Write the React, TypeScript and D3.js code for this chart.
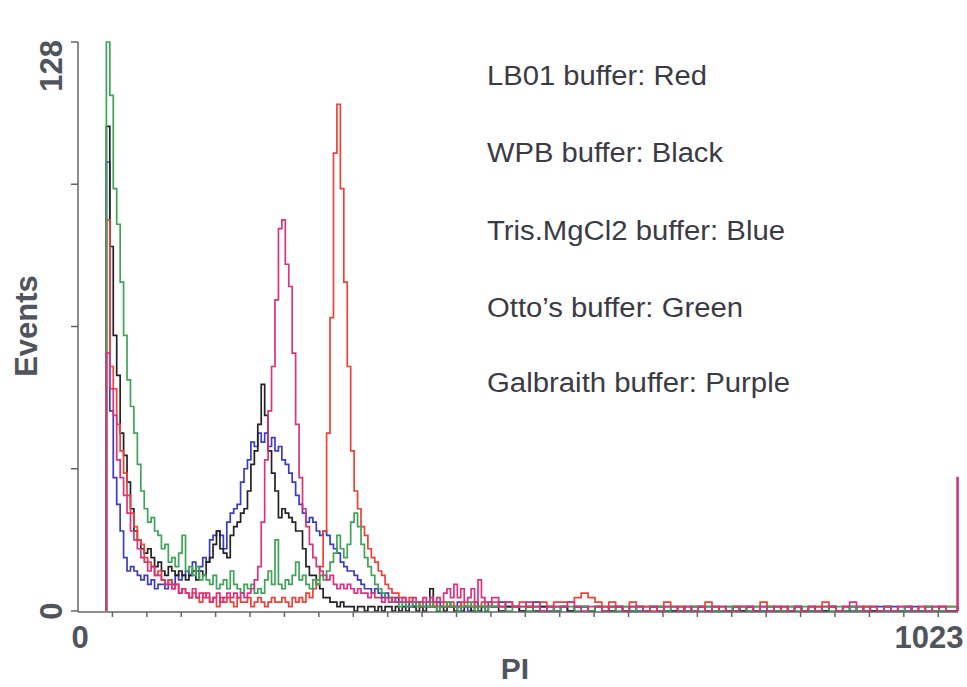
import React from "react";
import * as d3 from "d3";

// ---- data (PI channel histogram, counts per bin) ----
const MAIN_START = 33;   // first channel of the 4-channel bins
const MAIN_WIDTH = 4;
const TAIL_START = 481;  // first channel of the 8-channel bins
const TAIL_WIDTH = 8;
const LAST_CHANNEL = 1022;

const xTickValues = d3.range(40, 1001, 40);
const yTickValues = [0, 32, 64, 96, 128];

const legendLines = [
  "LB01 buffer: Red",
  "WPB buffer: Black",
  "Tris.MgCl2 buffer: Blue",
  "Otto\u2019s buffer: Green",
  "Galbraith buffer: Purple",
];

const greenMain = [
  128, 116, 95, 87, 74, 62, 52, 46, 40, 33,
  27, 23, 20, 21, 18, 17, 14, 15, 11, 12,
  10, 13, 17, 9, 10, 8, 10, 7, 8, 7,
  6, 8, 5, 6, 7, 5, 9, 6, 5, 4,
  6, 5, 6, 4, 5, 4, 7, 9, 6, 16,
  6, 5, 7, 6, 8, 11, 7, 8, 6, 5,
  7, 6, 8, 7, 9, 11, 13, 17, 14, 12,
  15, 20, 22, 19, 15, 12, 10, 8, 6, 5,
  4, 3, 3, 2, 2, 1, 2, 1, 1, 2,
  1, 2, 1, 1, 2, 1, 0, 1, 1, 2,
  1, 1, 0, 1, 1, 2, 1, 0, 1, 1,
  0, 1,
];
const redMain = [
  88, 55, 50, 42, 36, 31, 26, 22, 19, 16,
  15, 12, 11, 10, 8, 9, 7, 6, 7, 5,
  6, 4, 5, 4, 3, 4, 3, 2, 4, 3,
  2, 3, 1, 3, 2, 3, 2, 1, 3, 2,
  2, 3, 1, 2, 3, 2, 1, 2, 3, 2,
  2, 3, 2, 1, 3, 2, 3, 2, 4, 3,
  5, 7, 10, 18, 40, 66, 103, 114, 95, 74,
  55, 36, 27, 23, 19, 17, 14, 12, 11, 9,
  8, 6, 5, 4, 4, 3, 3, 2, 3, 2,
  2, 1, 2, 2, 1, 2, 1, 1, 2, 1,
  2, 1, 1, 2, 1, 1, 2, 1, 1, 2,
  1, 1,
];
const purpleMain = [
  58, 50, 44, 34, 30, 26, 22, 18, 16, 14,
  12, 11, 9, 10, 8, 8, 7, 6, 6, 5,
  6, 4, 5, 4, 3, 5, 3, 4, 3, 4,
  2, 3, 4, 2, 3, 4, 3, 4, 3, 4,
  3, 4, 5, 7, 10, 20, 34, 45, 55, 70,
  86, 88, 78, 73, 58, 42, 30, 23, 19, 15,
  12, 10, 9, 8, 7, 8, 6, 5, 6, 5,
  6, 5, 4, 5, 4, 4, 3, 4, 3, 3,
  2, 3, 2, 3, 2, 2, 3, 2, 2, 3,
  2, 2, 3, 2, 3, 2, 3, 2, 4, 5,
  3, 6, 3, 5, 2, 3, 5, 2, 7, 3,
  2, 2,
];
const blackMain = [
  109, 82, 62, 53, 40, 35, 29, 23, 18, 16,
  14, 13, 14, 12, 10, 11, 9, 8, 10, 9,
  8, 9, 8, 7, 8, 9, 7, 9, 8, 11,
  12, 15, 18, 14, 13, 12, 17, 19, 20, 22,
  23, 27, 33, 36, 42, 51, 44, 36, 31, 27,
  21, 23, 22, 21, 20, 18, 18, 14, 10, 8,
  8, 6, 5, 3, 3, 2, 2, 1, 2, 1,
  1, 1, 0, 1, 1, 0, 1, 1, 0, 1,
  0, 1, 1, 0, 1, 0, 1, 0, 1, 1,
  0, 1, 0, 1, 5, 1, 0, 1, 0, 1,
  1, 0, 1, 0, 1, 1, 0, 1, 0, 1,
  0, 1,
];
const blueMain = [
  101, 45, 30, 24, 18, 12, 9, 10, 9, 8,
  7, 8, 6, 7, 5, 6, 6, 5, 7, 6,
  8, 7, 8, 9, 8, 11, 9, 10, 12, 11,
  16, 17, 18, 17, 14, 20, 22, 23, 24, 29,
  32, 34, 38, 37, 40, 38, 40, 37, 39, 36,
  37, 34, 33, 31, 29, 26, 24, 22, 20, 21,
  20, 18, 17, 18, 17, 15, 14, 13, 11, 10,
  9, 9, 8, 7, 6, 5, 5, 4, 5, 4,
  3, 4, 3, 2, 3, 2, 2, 1, 2, 1,
  2, 1, 1, 2, 1, 1, 2, 1, 1, 2,
  1, 1, 2, 1, 1, 0, 1, 2, 1, 1,
  1, 2,
];

const redTail = [
  2, 1, 2, 1, 2, 1, 1, 2, 1, 2,
  2, 2, 3, 4, 3, 2, 1, 2, 1, 1,
  2, 1, 1, 0, 1, 2, 1, 1, 0, 1,
  1, 2, 1, 0, 1, 1, 1, 0, 1, 2,
  1, 1, 0, 1, 1, 0, 1, 1, 2, 1,
  0, 1, 1, 0, 1, 1, 0, 1, 0, 1,
  1, 0, 1, 1, 0, 1, 1,
];
const purpleTail = [
  3, 1, 2, 1, 1, 2, 1, 0, 1, 1,
  1, 2, 1, 0, 1, 1, 0, 1, 1, 0,
  1, 1, 0, 1, 0, 1, 1, 0, 1, 0,
  1, 0, 1, 1, 0, 0, 1, 1, 0, 1,
  0, 1, 1, 0, 1, 0, 1, 0, 1, 1,
  0, 1, 2, 1, 0, 1, 0, 1, 0, 1,
  1, 0, 1, 0, 1, 1, 0,
];
const blackTail = [
  1, 0, 1, 1, 0, 1, 0, 1, 1, 0,
  1, 0, 1, 1, 0, 1, 1, 0, 1, 0,
  0, 1, 0, 1, 1, 0, 0, 1, 0, 1,
  1, 0, 1, 0, 0, 1, 0, 1, 0, 0,
  1, 0, 1, 0, 1, 0, 0, 1, 0, 1,
  0, 0, 1, 0, 1, 0, 0, 1, 0, 0,
  1, 0, 0, 1, 0, 1, 0,
];
const blueTail = [
  1, 2, 1, 1, 0, 1, 2, 1, 0, 1,
  1, 0, 1, 1, 0, 1, 0, 1, 1, 0,
  1, 0, 1, 1, 0, 1, 0, 0, 1, 0,
  1, 1, 0, 1, 0, 1, 0, 1, 0, 1,
  0, 1, 0, 0, 1, 0, 1, 0, 0, 1,
  0, 1, 0, 1, 0, 0, 1, 0, 1, 0,
  0, 1, 0, 0, 1, 0, 0,
];
const greenTail = [
  1, 1, 0, 1, 1, 0, 1, 0, 1, 0,
  1, 1, 0, 1, 0, 1, 0, 1, 0, 1,
  0, 1, 0, 1, 1, 0, 1, 0, 0, 1,
  0, 1, 0, 0, 1, 0, 1, 0, 1, 0,
  1, 0, 0, 1, 0, 1, 0, 0, 1, 0,
  1, 0, 1, 0, 0, 1, 0, 1, 0, 0,
  1, 0, 0, 1, 0, 0, 1,
];

const seriesNames = ["Blue", "Black", "Red", "Green", "Purple"];
const seriesMain = [blueMain, blackMain, redMain, greenMain, purpleMain];
const seriesTail = [blueTail, blackTail, redTail, greenTail, purpleTail];
const seriesLast = [0, 0, 1, 0, 30];
const seriesColors = ["#3c3cc0", "#222226", "#ee4236", "#3fa458", "#d8337e"];

function buildPoints(main: number[], tail: number[], last: number): [number, number][] {
  const pts: [number, number][] = [[MAIN_START, 0]];
  main.forEach((v, i) => pts.push([MAIN_START + i * MAIN_WIDTH, v]));
  tail.forEach((v, j) => pts.push([TAIL_START + j * TAIL_WIDTH, v]));
  pts.push([LAST_CHANNEL, last]);
  pts.push([1023, 0]);
  return pts;
}

export default function App() {
  const W = 967;
  const H = 687;
  const x = d3.scaleLinear().domain([0, 1023]).range([78, 958]);
  const y = d3.scaleLinear().domain([0, 128]).range([611, 42]);
  const line = d3
    .line<[number, number]>()
    .x((d) => x(d[0]))
    .y((d) => y(d[1]))
    .curve(d3.curveStepAfter);

  const labelColor = "#50545c";
  const legendWidths = [220, 236, 298, 256, 303];
  const legendY = [85, 162, 240, 317, 392];

  return (
    <svg
      width={W}
      height={H}
      style={{ position: "absolute", left: 0, top: 0, background: "#fff" }}
      fontFamily="'Liberation Sans', Arial, sans-serif"
    >
      <rect x={0} y={0} width={W} height={H} fill="#fff" />
      {/* series */}
      {seriesNames.map((name, i) => (
        <path
          key={name}
          d={line(buildPoints(seriesMain[i], seriesTail[i], seriesLast[i])) || ""}
          fill="none"
          stroke={seriesColors[i]}
          strokeWidth={1.7}
          strokeLinejoin="miter"
        />
      ))}
      {/* axes */}
      <line x1={x(0)} x2={x(0)} y1={y(0) + 1} y2={y(128)} stroke="#666" strokeWidth={1.5} />
      <line x1={x(0)} x2={x(1023)} y1={y(0) + 1} y2={y(0) + 1} stroke="#666" strokeWidth={1.5} />
      {yTickValues.map((t) => (
        <line key={"yt" + t} x1={x(0) - 7} x2={x(0)} y1={y(t)} y2={y(t)} stroke="#666" strokeWidth={1.5} />
      ))}
      {xTickValues.map((t) => (
        <line key={"xt" + t} x1={x(t)} x2={x(t)} y1={y(0) + 1} y2={y(0) + 6} stroke="#666" strokeWidth={1.5} />
      ))}
      {/* axis labels */}
      <text x={x(0) + 2} y={648} textAnchor="middle" fontWeight="bold" fontSize={31} fill={labelColor}>
        0
      </text>
      <text x={929} y={648} textAnchor="middle" fontWeight="bold" fontSize={31} fill={labelColor}>
        1023
      </text>
      <text x={515} y={679} textAnchor="middle" fontWeight="bold" fontSize={30} fill={labelColor}>
        PI
      </text>
      <text
        transform={`translate(62,${y(0)}) rotate(-90)`}
        textAnchor="middle"
        fontWeight="bold"
        fontSize={31}
        fill={labelColor}
      >
        0
      </text>
      <text
        transform={`translate(62,${y(128) - 2}) rotate(-90)`}
        textAnchor="end"
        fontWeight="bold"
        fontSize={31}
        fill={labelColor}
      >
        128
      </text>
      <text
        transform={`translate(37,326) rotate(-90)`}
        textAnchor="middle"
        fontWeight="bold"
        fontSize={31}
        fill={labelColor}
      >
        Events
      </text>
      {/* legend text */}
      {legendLines.map((t, i) => (
        <text
          key={t}
          x={487}
          y={legendY[i]}
          fontSize={27}
          fill="#3a3b44"
          textLength={legendWidths[i]}
          lengthAdjust="spacingAndGlyphs"
        >
          {t}
        </text>
      ))}
    </svg>
  );
}
